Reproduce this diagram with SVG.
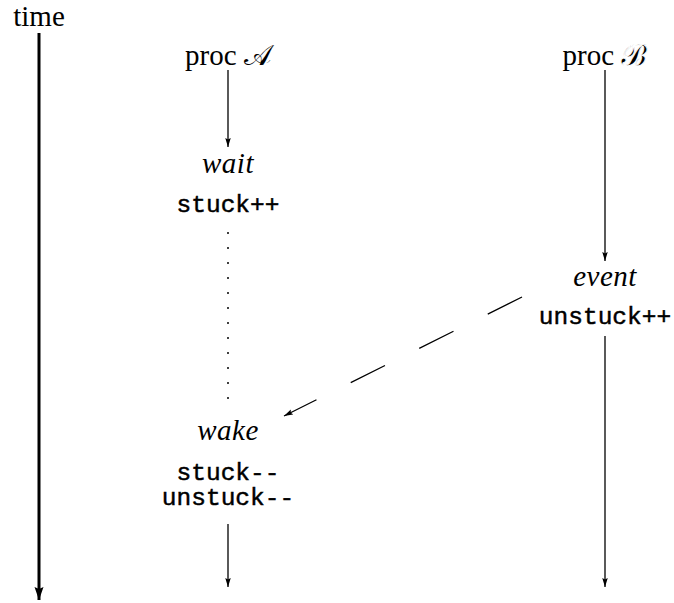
<svg xmlns="http://www.w3.org/2000/svg" width="674" height="603" viewBox="0 0 674 603">
<style>
.rm{font-family:"Liberation Serif","Times New Roman",serif;font-size:29px;fill:#000;text-anchor:middle}
.it{font-family:"Liberation Serif","Times New Roman",serif;font-style:italic;font-size:29px;fill:#000;text-anchor:middle;letter-spacing:0.5px}
.tt{font-family:"Liberation Mono","Courier New",monospace;font-size:24.5px;fill:#000;stroke:#000;stroke-width:0.45;text-anchor:middle}
.cal{font-family:"DejaVu Serif","DejaVu Sans","Noto Sans",serif}
.thin{stroke:#fff;stroke-width:0.9}
.ln{stroke:#000;stroke-width:1.3;fill:none}
</style>
<defs>
<marker id="ah" markerUnits="userSpaceOnUse" markerWidth="10" markerHeight="6" refX="9" refY="2.75" orient="auto">
<path d="M0,0 L9,2.75 L0,5.5 L1.5,2.75 z" fill="#000"/>
</marker>
<marker id="ahb" markerUnits="userSpaceOnUse" markerWidth="14" markerHeight="10" refX="13" refY="4.5" orient="auto">
<path d="M0,0 L13,4.5 L0,9 L2,4.5 z" fill="#000"/>
</marker>
</defs>
<g id="time">
<text class="rm" x="39" y="26">time</text>
</g>
<g id="procA"><text class="rm" x="228" y="65">proc <tspan class="cal">𝒜</tspan></text></g>
<g id="wait"><text class="it" x="228" y="173">wait</text><text class="tt" x="228" y="212">stuck++</text></g>
<g id="wake"><text class="it" x="228" y="440">wake</text><text class="tt" x="228" y="480">stuck--</text><text class="tt" x="228" y="505">unstuck--</text></g>
<g id="procB"><text class="rm" x="605" y="65">proc <tspan class="cal thin">𝓑</tspan></text></g>
<g id="event"><text class="it" x="605" y="286">event</text><text class="tt" x="605" y="324">unstuck++</text></g>
<g id="connectors">
<line x1="39" y1="33" x2="39" y2="600" stroke="#000" stroke-width="3" marker-end="url(#ahb)"/>
<line class="ln" x1="228" y1="70" x2="228" y2="147" marker-end="url(#ah)"/>
<line class="ln" x1="228" y1="524" x2="228" y2="587" marker-end="url(#ah)"/>
<line class="ln" x1="605" y1="70" x2="605" y2="261" marker-end="url(#ah)"/>
<line class="ln" x1="605" y1="336" x2="605" y2="587" marker-end="url(#ah)"/>
<line class="ln" x1="522" y1="297" x2="284" y2="416" stroke-dasharray="38.3 38.3" marker-end="url(#ah)"/>
<g fill="#000">
<circle cx="228" cy="233" r="1"/><circle cx="228" cy="248" r="1"/><circle cx="228" cy="263" r="1"/><circle cx="228" cy="278" r="1"/>
<circle cx="228" cy="293" r="1"/><circle cx="228" cy="308" r="1"/><circle cx="228" cy="323" r="1"/><circle cx="228" cy="338" r="1"/>
<circle cx="228" cy="353" r="1"/><circle cx="228" cy="368" r="1"/><circle cx="228" cy="383" r="1"/><circle cx="228" cy="398" r="1"/>
</g>
</g>
</svg>
